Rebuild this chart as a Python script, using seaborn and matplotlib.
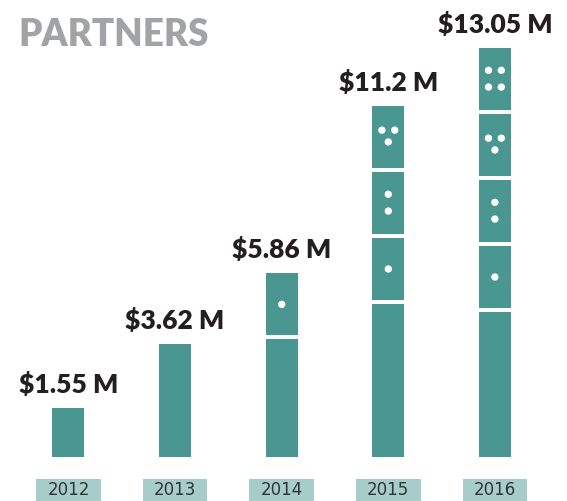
import matplotlib
matplotlib.use("Agg")
import matplotlib.pyplot as plt
import matplotlib.transforms as mtransforms
from matplotlib.patches import Rectangle
import pandas as pd
import seaborn as sns

# Partner funding per year, in millions of dollars
years = ["2012", "2013", "2014", "2015", "2016"]
funding = [1.55, 3.62, 5.86, 11.2, 13.05]
# number of domino tiles stacked at the top of each bar (pips 1..n, top tile has most)
tiles = [0, 0, 1, 3, 4]
title = "PARTNERS"

# styling
BAR = "#4a9690"
BOX = "#a6cdc9"
TITLE_GREY = "#a2a3a6"
INK = "#231f20"
YEAR_INK = "#333333"
W, H = 567, 501
AX_BOTTOM = 44          # px from the bottom of the figure
AX_H = H - AX_BOTTOM
PX_PER_UNIT = 409 / 13.05
SPACING = 106.6         # px between bar centres
FIRST = 68.5            # px, centre of first bar
BAR_W = 32 / SPACING
TILE = 62 / PX_PER_UNIT
GAP = 4 / PX_PER_UNIT

# pip layout: (x offset as fraction of bar width, y position as fraction of tile from top)
PIPS = {
    1: [(0.0, 0.50)],
    2: [(0.0, 0.36), (0.0, 0.63)],
    3: [(-0.2, 0.39), (0.2, 0.39), (0.0, 0.58)],
    4: [(-0.2, 0.36), (0.2, 0.36), (-0.2, 0.63), (0.2, 0.63)],
}

sns.set_theme(style="white")
plt.rcParams["font.family"] = ["Lato", "DejaVu Sans"]

df = pd.DataFrame({"year": years, "funding": funding})

fig = plt.figure(figsize=(W / 100, H / 100), dpi=100)
ax = fig.add_axes([0, AX_BOTTOM / H, 1, AX_H / H])

sns.barplot(data=df, x="year", y="funding", order=years, color=BAR,
            saturation=1, width=BAR_W, ax=ax, errorbar=None, linewidth=0)

ax.set_xlim(-FIRST / SPACING, (W - FIRST) / SPACING)
ax.set_ylim(0, AX_H / PX_PER_UNIT)
ax.set_axis_off()

# domino tiles: white separators and pips
for i, (v, n) in enumerate(zip(funding, tiles)):
    for j in range(n):
        top = v - j * (TILE + GAP)
        bottom = top - TILE
        ax.add_patch(Rectangle((i - BAR_W / 2 - 0.02, bottom - GAP), BAR_W + 0.04, GAP,
                               facecolor="white", edgecolor="none", zorder=3))
        pips = PIPS[n - j]
        xs = [i + dx * BAR_W for dx, _ in pips]
        ys = [top - dy * TILE for _, dy in pips]
        ax.scatter(xs, ys, s=28, color="white", edgecolors="none", zorder=4)

# value labels above bars
for i, v in enumerate(funding):
    ax.text(i, v + 15 / PX_PER_UNIT, f"${v:g} M", ha="center", va="baseline",
            fontsize=19, fontweight="heavy", color=INK)

# year tags below the bars
trans = mtransforms.blended_transform_factory(ax.transData, ax.transAxes)
box_w = 64.7 / SPACING
for i, y in enumerate(years):
    ax.add_patch(Rectangle((i - box_w / 2, -(AX_BOTTOM + 5) / AX_H), box_w,
                           (AX_BOTTOM + 5 - 22) / AX_H, transform=trans,
                           facecolor=BOX, edgecolor="none", clip_on=False))
    ax.text(i, -(495 - AX_H) / AX_H, y, transform=trans, ha="center", va="baseline",
            fontsize=12, fontweight="normal", color=YEAR_INK, clip_on=False,
            family=["DejaVu Sans"])

fig.text(18 / W, 1 - 46 / H, title, ha="left", va="baseline", fontsize=26.5,
         fontweight="heavy", color=TITLE_GREY)

fig.savefig("out.png", dpi=100)
